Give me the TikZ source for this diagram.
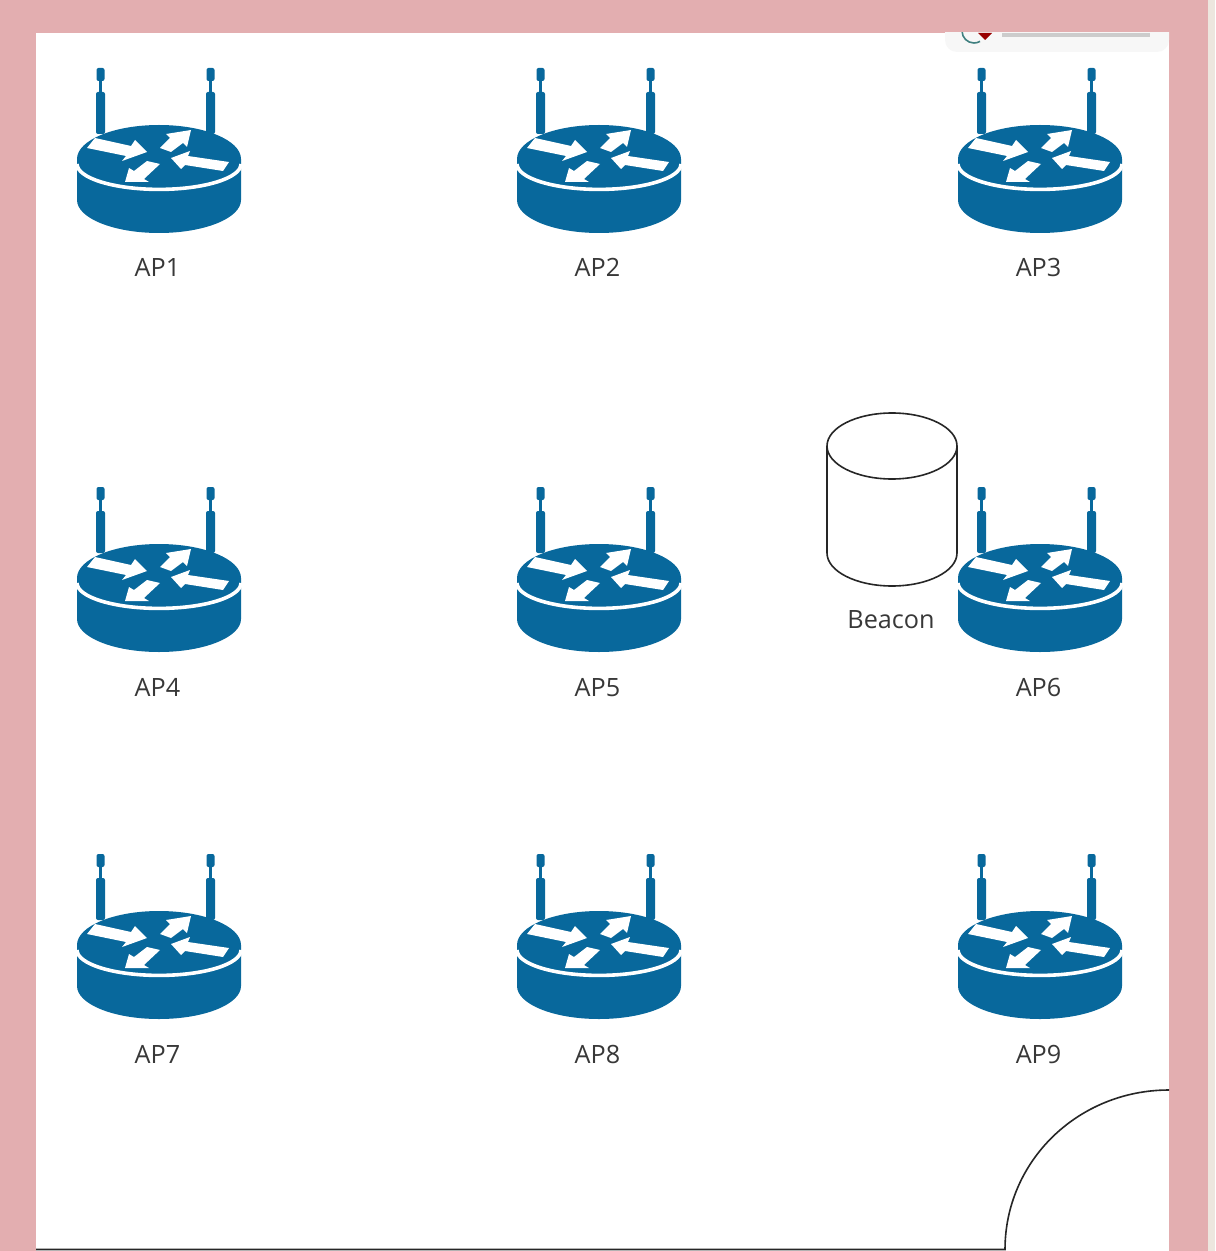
\documentclass[tikz,border=0pt]{standalone}
\usepackage{fontspec}
\setmainfont{Open Sans}
\usetikzlibrary{positioning,calc}
\definecolor{pagepink}{HTML}{E3AEB0}
\definecolor{pagebeige}{HTML}{EDE6DE}
\definecolor{routerblue}{HTML}{08689C}
\definecolor{labelgray}{HTML}{383838}
\tikzset{
  aplabel/.style={font=\fontsize{12.6}{14}\selectfont,text=labelgray,inner sep=0pt,anchor=base},
  outline/.style={draw=black!85,line width=0.8pt},
  router/.pic={
    \fill[routerblue,rounded corners=1pt] (-62.5,-91) rectangle (-54.5,-78);
    \fill[routerblue] (-60,-78) rectangle (-57,-67);
    \fill[routerblue,rounded corners=1pt] (-63,-67) rectangle (-54,-25);
    \fill[routerblue,rounded corners=1pt] (47.5,-91) rectangle (55.5,-78);
    \fill[routerblue] (50,-78) rectangle (53,-67);
    \fill[routerblue,rounded corners=1pt] (47,-67) rectangle (56,-25);
    \fill[routerblue] (-82,0) -- (-82,41)
      arc[start angle=180,end angle=360,x radius=41pt,y radius=16.5pt]
      -- (82,0) arc[start angle=0,end angle=180,x radius=41pt,y radius=17pt] -- cycle;
    \draw[white,line width=1.8pt] (-82,5)
      arc[start angle=180,end angle=360,x radius=41pt,y radius=12.7pt];
    \fill[white] (-64,-21) -- (-72,-11) -- (-33,-3) -- (-37,2) -- (-12,-7)
      -- (-24,-19) -- (-28,-13) -- cycle;
    \fill[white] (32,-29) -- (7,-25) -- (11,-21) -- (1,-11) -- (12,-7)
      -- (24,-16) -- (28,-12) -- cycle;
    \fill[white] (12,-1) -- (31,-8) -- (29,-3) -- (70,3) -- (64,12)
      -- (26,6) -- (22,10) -- cycle;
    \fill[white] (-34,23) -- (-30,9) -- (-25,12) -- (-12,2) -- (1,5)
      -- (-15,20) -- (-10,23) -- cycle;
  }
}
\begin{document}
\begin{tikzpicture}[x=0.5pt,y=-0.5pt]
\useasboundingbox (0,0) rectangle (1215,1251);
\fill[pagepink] (0,0) rectangle (1215,1251);
\fill[pagebeige] (1208,0) rectangle (1215,1251);
\fill[white] (36,33) rectangle (1169,1251);

\begin{scope}
\clip (36,33) rectangle (1169,1251);
\fill[black!3,rounded corners=6pt] (945,10) rectangle (1169,52);
\draw[teal!50!gray,line width=0.8pt] (962,31) arc[start angle=180,end angle=300,radius=6pt];
\fill[red!60!black] (978,33) -- (992,33) -- (985,40) -- cycle;
\fill[black!20] (1002,33) rectangle (1150,37);
\end{scope}

\draw[outline,fill=white] (827,446) -- (827,553)
  arc[start angle=180,end angle=360,x radius=32.5pt,y radius=16.5pt]
  -- (957,446) arc[start angle=0,end angle=180,x radius=32.5pt,y radius=16.5pt];
\draw[outline] (827,446) arc[start angle=180,end angle=360,x radius=32.5pt,y radius=16.5pt];
\node[aplabel] (beacon) at (891,628) {Beacon};

\foreach \apname/\apx/\apy in {AP1/159/159,AP2/599/159,AP3/1040/159,
                               AP4/159/578,AP5/599/578,AP6/1040/578,
                               AP7/159/945,AP8/599/945,AP9/1040/945} {
  \pic at (\apx,\apy) {router};
  \node[aplabel] (\apname) at ($(\apx,\apy)+(-1.5,118)$) {\apname};
}

\draw[outline] (36,1249.5) -- (1005,1249.5)
  .. controls (1005,1161) and (1078,1090) .. (1169,1090);
\end{tikzpicture}
\end{document}
